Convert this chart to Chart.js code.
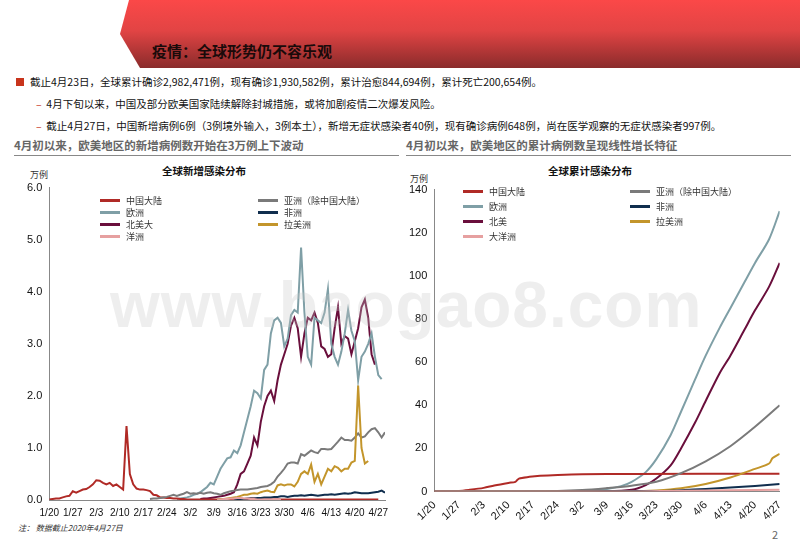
<!DOCTYPE html>
<html><head><meta charset="utf-8">
<script src="https://cdn.jsdelivr.net/npm/chart.js@4"></script>
<style>
body{margin:0;width:800px;height:553px;position:relative;background:#fff;font-family:"Noto Sans CJK SC","Liberation Sans",sans-serif;overflow:hidden}
.abs{position:absolute}
#banner{left:120px;top:0;width:680px;height:68px;background:linear-gradient(#fb4848,#e24444 45%,#8a2b2b);clip-path:polygon(9px 0,100% 0,100% 100%,20px 100%,0 34px)}
#title{left:152px;top:40px;font-size:15px;font-weight:bold;color:#1a0a0a}
.txt{font-size:10.5px;color:#111;white-space:nowrap}
.sub{font-size:11.5px;color:#666;font-weight:bold;border-bottom:1px solid #888;width:385px;padding-bottom:2px}
.lg{font-size:9px;color:#333;display:flex;align-items:center;white-space:nowrap}
.lg i{display:inline-block;width:20px;height:2.5px;margin-right:6px}
.ct{font-size:10.5px;font-weight:bold;color:#111}
#wm{left:110px;top:268px;font:bold 64px "Liberation Sans",sans-serif;color:rgba(200,200,200,0.3);letter-spacing:1px}
</style></head><body>
<div id="banner" class="abs"></div>
<div id="title" class="abs">疫情：全球形势仍不容乐观</div>
<div class="abs" style="left:16px;top:78px;width:8px;height:8px;background:#c8341c"></div>
<div class="abs txt" style="left:30px;top:74px">截止4月23日，全球累计确诊2,982,471例，现有确诊1,930,582例，累计治愈844,694例，累计死亡200,654例。</div>
<div class="abs txt" style="left:36px;top:96px"><span style="color:#c8341c">–</span>&nbsp;&nbsp;4月下旬以来，中国及部分欧美国家陆续解除封城措施，或将加剧疫情二次爆发风险。</div>
<div class="abs txt" style="left:36px;top:118px"><span style="color:#c8341c">–</span>&nbsp;&nbsp;截止4月27日，中国新增病例6例（3例境外输入，3例本土），新增无症状感染者40例，现有确诊病例648例，尚在医学观察的无症状感染者997例。</div>
<div class="abs sub" style="left:14px;top:137px">4月初以来，欧美地区的新增病例数开始在3万例上下波动</div>
<div class="abs sub" style="left:406px;top:137px">4月初以来，欧美地区的累计病例数呈现线性增长特征</div>
<div class="abs ct" style="left:162px;top:163px">全球新增感染分布</div>
<div class="abs ct" style="left:548px;top:163px">全球累计感染分布</div>
<div class="abs" style="left:30px;top:168px;font-size:9px;color:#333">万例</div>
<div class="abs" style="left:410px;top:172px;font-size:9px;color:#333">万例</div>
<div class="abs" style="left:0;top:178px;width:395px;height:344px"><canvas id="c1"></canvas></div>
<div class="abs" style="left:400px;top:180px;width:392px;height:346px"><canvas id="c2"></canvas></div>
<div id="wm" class="abs">www.baogao8.com</div>
<div id="lg1"></div><div id="lg2"></div>
<div class="abs" style="left:18px;top:522px;font-size:8px;font-style:italic;color:#333">注：&nbsp;数据截止2020年4月27日</div>
<div class="abs" style="left:772px;top:526px;font-size:11px;color:#666">2</div>
<script>
const tickLabels = ['1/20','1/27','2/3','2/10','2/17','2/24','3/2','3/9','3/16','3/23','3/30','4/6','4/13','4/20','4/27'];
const names = ['中国大陆','亚洲（除中国大陆）','欧洲','非洲','北美大','拉美洲','洋洲'];
const names2 = ['中国大陆','亚洲（除中国大陆）','欧洲','非洲','北美','拉美洲','大洋洲'];
const colors = ['#b02a26','#7a7a7a','#7f9fa6','#102e4e','#6a0f3c','#c3952b','#e6a0a0'];

// daily new cases (万例), [startDay, values...], day 0 = 1/20
const chinaNew = [0, 0.01,0.02,0.03,0.03,0.05,0.07,0.08,0.17,0.14,0.17,0.2,0.21,0.25,0.3,0.38,0.37,0.33,0.3,0.33,0.27,0.3,0.25,0.2,1.42,0.5,0.3,0.22,0.2,0.2,0.19,0.17,0.1,0.09,0.05,0.05,0.04,0.04,0.03,0.03,0.02,0.02,0.01,0.01,0.01,0.01,0.01,0.01,0.01,0.01,0.01,0.01,0.01,0.02,0.02,0.02,0.02,0.02,0.03,0.02,0.02,0.03,0.03,0.02,0.01,0.01,0.01,0.01,0.01,0.01,0.01,0.01,0.01,0.01,0.01,0.01,0.01,0.01,0.01,0.01,0.01,0.01,0.01,0.01,0.01,0.01,0.01,0.01,0.01,0.01,0.01,0.01,0.01,0.01,0.01,0.01,0.01,0.01,0.01,0.01];
const asiaNew = [30, 0.02,0.03,0.03,0.04,0.05,0.06,0.08,0.1,0.08,0.1,0.12,0.15,0.12,0.13,0.12,0.14,0.12,0.14,0.15,0.13,0.12,0.1,0.13,0.15,0.17,0.18,0.19,0.2,0.2,0.2,0.21,0.22,0.23,0.25,0.26,0.27,0.3,0.35,0.45,0.52,0.6,0.7,0.72,0.72,0.7,0.88,0.85,0.9,0.95,0.92,0.9,0.98,0.98,0.97,0.98,1.05,1.12,1.2,1.15,1.15,1.14,1.2,1.28,1.2,1.22,1.3,1.36,1.38,1.3,1.2,1.3,1.3,1.25,1.2,1.1];
const europeNew = [38, 0.02,0.03,0.04,0.05,0.07,0.1,0.12,0.15,0.2,0.25,0.33,0.3,0.45,0.6,0.7,0.8,0.82,0.95,0.9,1.05,1.3,1.55,1.8,2.1,2.05,1.95,2.5,2.6,3.2,3.45,3.5,3.4,2.95,3.1,3.55,3.65,3.6,4.85,3.6,2.75,2.6,3.5,3.45,3.4,3.6,4.05,3.0,2.75,2.6,2.85,3.2,3.65,3.25,3.05,2.3,2.75,2.85,3.0,3.2,2.75,2.4,2.32];
const africaNew = [55, 0.01,0.01,0.02,0.02,0.03,0.03,0.03,0.04,0.04,0.05,0.05,0.05,0.06,0.06,0.07,0.07,0.06,0.07,0.08,0.08,0.09,0.08,0.09,0.1,0.09,0.08,0.09,0.1,0.1,0.11,0.1,0.11,0.12,0.13,0.12,0.13,0.15,0.14,0.13,0.13,0.13,0.14,0.15,0.16,0.18,0.14,0.16,0.12,0.15,0.13];
const namNew = [45, 0.02,0.03,0.03,0.04,0.05,0.06,0.07,0.08,0.1,0.12,0.15,0.3,0.5,0.55,0.7,0.85,1.2,1.05,1.5,1.8,2.0,2.1,1.9,2.3,2.6,2.8,3.0,3.35,3.5,3.3,2.75,3.2,3.5,3.45,3.6,3.4,2.95,2.9,2.75,2.8,3.3,3.7,3.0,3.15,3.1,2.8,3.05,3.3,3.7,3.85,3.5,2.8,2.6];
const latamNew = [50, 0.01,0.02,0.02,0.03,0.04,0.05,0.06,0.08,0.1,0.1,0.12,0.13,0.12,0.15,0.17,0.18,0.16,0.15,0.28,0.3,0.28,0.3,0.3,0.26,0.35,0.5,0.55,0.5,0.68,0.35,0.5,0.3,0.45,0.6,0.55,0.65,0.62,0.55,0.6,0.6,0.72,0.75,2.2,1.0,0.7,0.75];
const oceaniaNew = [50, 0.01,0.01,0.02,0.02,0.03,0.03,0.04,0.04,0.03,0.03,0.02,0.02,0.01,0.01,0.01,0.01,0.01,0.01,0.01,0.01];

// cumulative (万例), [day, value] pairs
const chinaCum = [[0,0.03],[7,0.3],[10,0.8],[14,1.7],[17,2.8],[21,4.0],[23,4.5],[24,6.0],[27,6.8],[30,7.3],[35,7.7],[42,8.0],[56,8.1],[98,8.3]];
const asiaCum = [[0,0],[35,0.3],[42,0.7],[49,1.6],[56,2.7],[63,4.5],[70,8.5],[77,14],[84,21],[91,30],[98,40]];
const europeCum = [[0,0],[35,0.02],[42,0.2],[49,1.2],[53,2.5],[56,4.5],[60,9],[63,15],[67,26],[70,37],[74,52],[77,63],[81,76],[84,85],[88,97],[91,106],[95,117],[98,130]];
const africaCum = [[0,0],[63,0.2],[70,0.6],[77,1.2],[84,1.9],[91,2.6],[98,3.5]];
const namCum = [[0,0],[49,0.1],[56,0.8],[60,3],[63,6],[67,12],[70,20],[74,32],[77,42],[81,55],[84,63],[88,75],[91,84],[95,95],[98,106]];
const latamCum = [[0,0],[56,0.1],[63,0.5],[70,1.5],[77,3.5],[84,6.5],[91,10.5],[95,13],[96,15.5],[98,17.5]];
const oceaniaCum = [[0,0],[56,0.05],[70,0.4],[98,0.8]];

function pts(s){ return s.slice(1).map((v,i)=>({x:s[0]+i,y:v})); }
function pairs(s){ return s.map(p=>({x:p[0],y:p[1]})); }

function opts(xmax,ymax,step,fmt,rot,fs){
  const font = {family:'"Liberation Sans", Arial', size:fs};
  return {responsive:true,maintainAspectRatio:false,animation:false,
    plugins:{legend:{display:false},tooltip:{enabled:false}},
    elements:{point:{radius:0},line:{borderWidth:2,tension:rot?0.3:0}},
    scales:{
      x:{type:'linear',min:0,max:xmax,grid:{display:false,drawTicks:true,tickLength:4},border:{color:'#888'},
        afterBuildTicks:a=>{a.ticks=tickLabels.map((t,i)=>({value:i*7}));},
        ticks:{autoSkip:false,maxRotation:rot,minRotation:rot,color:'#111',font,callback:v=>tickLabels[v/7]||''}},
      y:{min:0,max:ymax,grid:{display:false,tickLength:4},border:{color:'#888'},
        ticks:{stepSize:step,color:'#111',font:{family:font.family,size:11},callback:fmt}}}};
}

new Chart(document.getElementById('c1'),{type:'line',data:{datasets:[
  oceaniaNew,africaNew,latamNew,asiaNew,chinaNew,europeNew,namNew].map((s,k)=>{
    const idx=[6,3,5,1,0,2,4][k];
    return {data:pts(s),borderColor:colors[idx]};
  })},options:Object.assign(opts(100,6,1,v=>v.toFixed(1),0,10),{layout:{padding:{left:24,right:10}}})});

new Chart(document.getElementById('c2'),{type:'line',data:{datasets:[
  oceaniaCum,africaCum,latamCum,asiaCum,chinaCum,europeCum,namCum].map((s,k)=>{
    const idx=[6,3,5,1,0,2,4][k];
    return {data:pairs(s),borderColor:colors[idx]};
  })},options:Object.assign(opts(98,140,20,v=>v,45,11),{layout:{padding:{left:6,right:8}}})});

function legend(id,left,top,colW,rowH,labels){
  let h='';
  labels.forEach((n,i)=>{
    const col=i%2,row=Math.floor(i/2);
    h+=`<div class="abs lg" style="left:${left+col*colW}px;top:${top+row*rowH}px"><i style="background:${colors[i]}"></i>${n}</div>`;
  });
  document.getElementById(id).innerHTML=h;
}
legend('lg1',100,194,158,12,names);
legend('lg2',463,185,167,15,names2);
</script>
</body></html>
